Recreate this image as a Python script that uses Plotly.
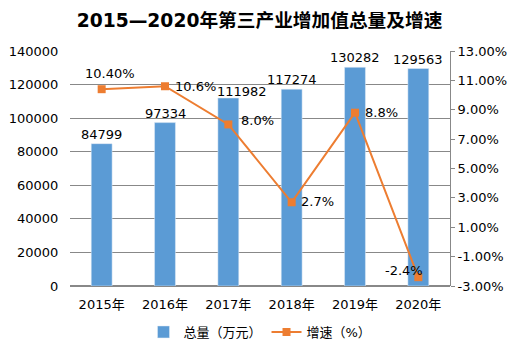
import plotly.graph_objects as go

years = ["2015年", "2016年", "2017年", "2018年", "2019年", "2020年"]
totals = [84799, 97334, 111982, 117274, 130282, 129563]
growth = [10.4, 10.6, 8.0, 2.7, 8.8, -2.4]
growth_labels = ["10.40%", "10.6%", "8.0%", "2.7%", "8.8%", "-2.4%"]
left_ticks = [0, 20000, 40000, 60000, 80000, 100000, 120000, 140000]
right_ticks = [-3, -1, 1, 3, 5, 7, 9, 11, 13]

# label placement (pixel offsets), style only
bar_lab_shift = [(0, 0), (0, 0), (14, -3), (0, 0), (0, 0), (0, 0)]
line_lab_place = [("center", 8, 16), ("left", 8, 0), ("left", 11, 4),
                  ("left", 7, 1), ("left", 8, 0), ("center", -14, 7)]

FONT = "DejaVu Sans, Noto Sans CJK SC, sans-serif"
GRID = "#888888"

fig = go.Figure()
fig.add_trace(go.Bar(
    x=years, y=totals, name="总量（万元）",
    marker=dict(color="#5B9BD5"),
    width=0.33,
))
fig.add_trace(go.Scatter(
    x=years, y=growth, name="增速（%）", yaxis="y2",
    mode="lines+markers",
    line=dict(color="#ED7D31", width=2),
    marker=dict(symbol="square", size=8, color="#ED7D31"),
    cliponaxis=False,
))

annotations = []
for yr, v, (dx, dy) in zip(years, totals, bar_lab_shift):
    annotations.append(dict(x=yr, y=v, xref="x", yref="y", text=str(v),
                            showarrow=False, xanchor="center", yanchor="bottom",
                            xshift=dx, yshift=dy, font=dict(size=13, color="#000")))
for yr, g, lab, (anc, dx, dy) in zip(years, growth, growth_labels, line_lab_place):
    annotations.append(dict(x=yr, y=g, xref="x", yref="y2", text=lab,
                            showarrow=False, xanchor=anc, yanchor="middle",
                            xshift=dx, yshift=dy, font=dict(size=13, color="#000")))

fig.update_layout(
    width=519, height=354,
    margin=dict(l=70, r=69, t=51, b=68, autoexpand=False),
    paper_bgcolor="white", plot_bgcolor="white",
    font=dict(family=FONT, size=13, color="#000000"),
    title=dict(text="<b>2015—2020年第三产业增加值总量及增速</b>",
               x=0.5, xanchor="center", y=1 - 20 / 354, yanchor="middle",
               yref="container", font=dict(size=18.7, color="#000000")),
    xaxis=dict(showgrid=False, showline=False, ticks="outside", ticklen=6,
               tickcolor="rgba(0,0,0,0)", tickfont=dict(size=13)),
    yaxis=dict(range=[0, 140000], tickvals=left_ticks,
               ticktext=[str(v) for v in left_ticks],
               showgrid=True, gridcolor=GRID,
               gridwidth=1, zeroline=True, zerolinecolor=GRID, showline=False,
               tickfont=dict(size=13), ticks="outside", ticklen=8,
               tickcolor="rgba(0,0,0,0)"),
    yaxis2=dict(overlaying="y", side="right", range=[-3, 13], tickvals=right_ticks,
                ticktext=["%.2f%%" % v for v in right_ticks],
                showgrid=False, zeroline=False,
                showline=True, linecolor=GRID, ticks="outside", ticklen=4,
                tickcolor=GRID, tickfont=dict(size=13)),
    bargap=0.67,
    annotations=annotations,
    showlegend=True,
    legend=dict(orientation="h", x=0.5, xanchor="center", y=1 - 332 / 354,
                yref="container", yanchor="middle",
                font=dict(size=13), traceorder="normal"),
)

fig.write_html("out.html")
